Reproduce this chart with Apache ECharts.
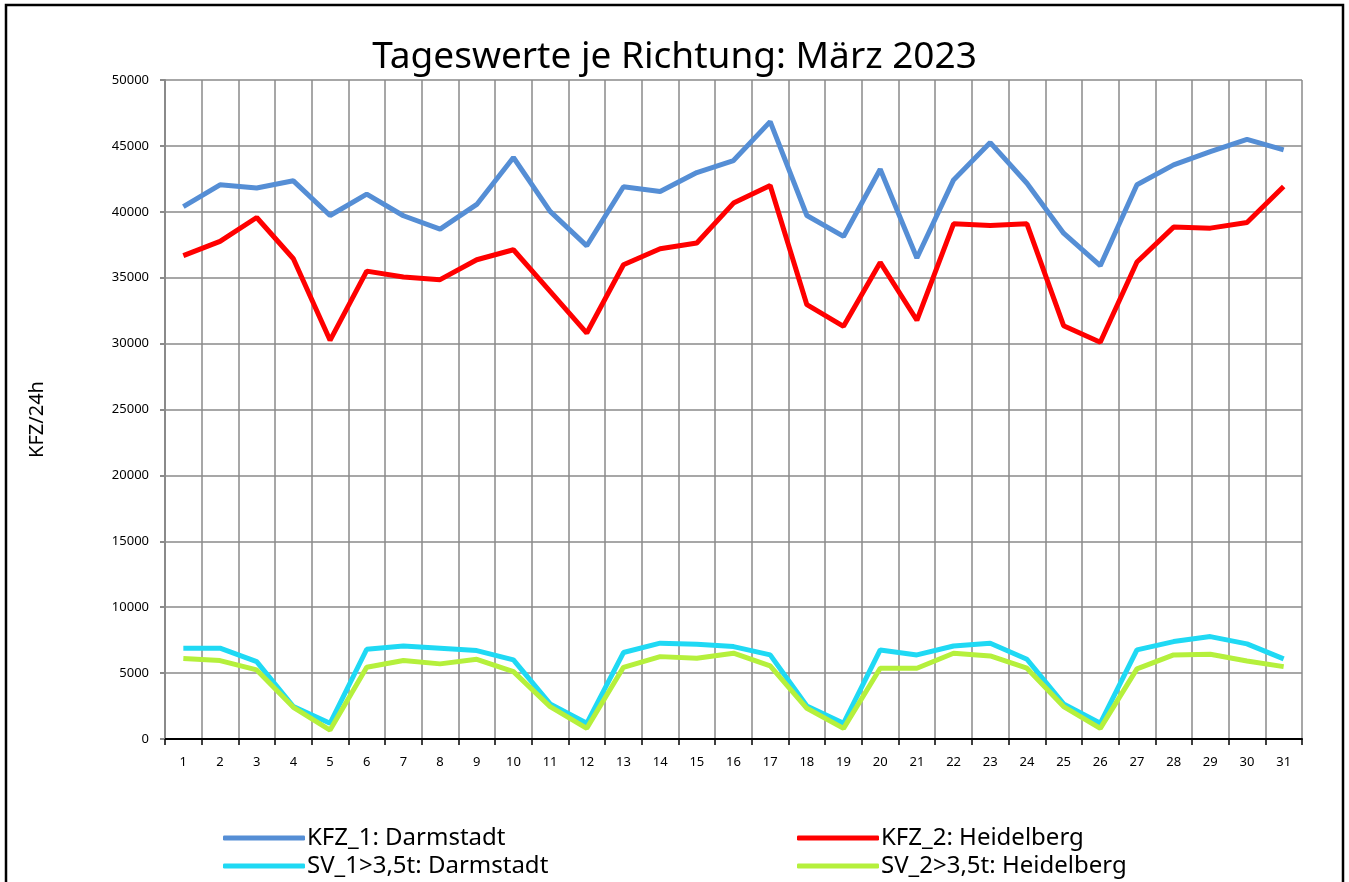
<!DOCTYPE html>
<html>
<head>
<meta charset="utf-8">
<title>Tageswerte je Richtung: März 2023</title>
<script src="https://cdn.jsdelivr.net/npm/echarts@6/dist/echarts.min.js"></script>
<style>
  html, body { margin: 0; padding: 0; background: #fff; }
  #myChart { width: 1349px; height: 882px; }
</style>
</head>
<body>
<div id="myChart"></div>
<script>
// Tage im März
const days = ['1','2','3','4','5','6','7','8','9','10','11','12','13','14','15','16',
  '17','18','19','20','21','22','23','24','25','26','27','28','29','30','31'];

const kfz1 = [40400, 42050, 41800, 42350, 39720, 41340, 39700, 38690, 40560, 44120, 40030,
  37420, 41900, 41540, 42980, 43890, 46840, 39720, 38130, 43230, 36490, 42420, 45250,
  42170, 38380, 35910, 42050, 43560, 44570, 45500, 44700];
const kfz2 = [36670, 37750, 39570, 36440, 30250, 35500, 35050, 34850, 36360, 37120, 33960,
  30800, 35980, 37200, 37630, 40660, 41990, 32950, 31310, 36160, 31770, 39090, 38960,
  39090, 31360, 30100, 36190, 38840, 38760, 39190, 41920];
const sv1 = [6890, 6890, 5870, 2460, 1190, 6810, 7060, 6890, 6710, 6000, 2660, 1190, 6560,
  7270, 7190, 7010, 6380, 2510, 1190, 6760, 6380, 7060, 7270, 6050, 2660, 1190, 6760,
  7390, 7770, 7220, 6080];
const sv2 = [6100, 5950, 5240, 2400, 680, 5440, 5950, 5700, 6050, 5110, 2460, 810, 5440,
  6250, 6130, 6510, 5540, 2330, 810, 5370, 5370, 6510, 6300, 5370, 2460, 810, 5320,
  6380, 6430, 5920, 5490];

const yTicks = [0, 5000, 10000, 15000, 20000, 25000, 30000, 35000, 40000, 45000, 50000];

const names = ['KFZ_1: Darmstadt', 'KFZ_2: Heidelberg', 'SV_1>3,5t: Darmstadt', 'SV_2>3,5t: Heidelberg'];
const colors = ['#558ED5', '#FF0000', '#1FD9F4', '#B5F03C'];
const values = [kfz1, kfz2, sv1, sv2];

const font = 'Noto Sans';
const gridColor = '#8a8a8a';

let myChart = echarts.init(document.getElementById('myChart'));

// eine Legende je Eintrag, 2 Spalten x 2 Zeilen
const legendPos = [[223, 826], [797, 826], [223, 854], [797, 854]];
const legends = names.map((n, i) => ({
  data: [n],
  left: legendPos[i][0],
  top: legendPos[i][1],
  padding: 0,
  itemWidth: 82,
  itemHeight: 5,
  icon: 'roundRect',
  textStyle: { fontFamily: font, fontSize: 24, color: '#000', padding: [0, 0, 0, -3] }
}));

myChart.setOption({
  animation: false,
  color: colors,
  title: {
    text: 'Tageswerte je Richtung: März 2023',
    left: 'center',
    top: 34,
    textStyle: { fontFamily: font, fontSize: 37, fontWeight: 'normal', color: '#000' }
  },
  grid: { left: 165, right: 47, top: 80, bottom: 143 },
  legend: legends,
  xAxis: {
    type: 'category',
    data: days,
    boundaryGap: true,
    axisLine: { lineStyle: { color: '#000', width: 2 } },
    axisTick: { show: true, length: 6, lineStyle: { color: '#000', width: 1.5 } },
    axisLabel: { fontFamily: font, fontSize: 13, color: '#000', margin: 17 },
    splitLine: { show: true, lineStyle: { color: gridColor, width: 1.5 } }
  },
  yAxis: {
    type: 'value',
    min: yTicks[0],
    max: yTicks[yTicks.length - 1],
    interval: yTicks[1] - yTicks[0],
    name: 'KFZ/24h',
    nameLocation: 'middle',
    nameGap: 118,
    nameTextStyle: { fontFamily: font, fontSize: 20, color: '#000', padding: [0, 0, 0, -20] },
    axisLine: { show: true, lineStyle: { color: gridColor, width: 2 } },
    axisTick: { show: true, length: 5, lineStyle: { color: gridColor, width: 2 } },
    axisLabel: { fontFamily: font, fontSize: 13, color: '#000', margin: 16, formatter: v => String(v) },
    splitLine: { show: true, lineStyle: { color: gridColor, width: 1.5 } }
  },
  graphic: [{
    type: 'rect',
    shape: { x: 6, y: 5, width: 1337, height: 920 },
    style: { fill: 'none', stroke: '#000', lineWidth: 2.5 },
    silent: true
  }],
  series: values.map((v, i) => ({
    name: names[i],
    type: 'line',
    data: v,
    showSymbol: false,
    symbol: 'none',
    lineStyle: { width: 5, color: colors[i] },
    itemStyle: { color: colors[i] },
    z: 3 + (i === 3 ? 1 : 0)
  }))
});
</script>
</body>
</html>
